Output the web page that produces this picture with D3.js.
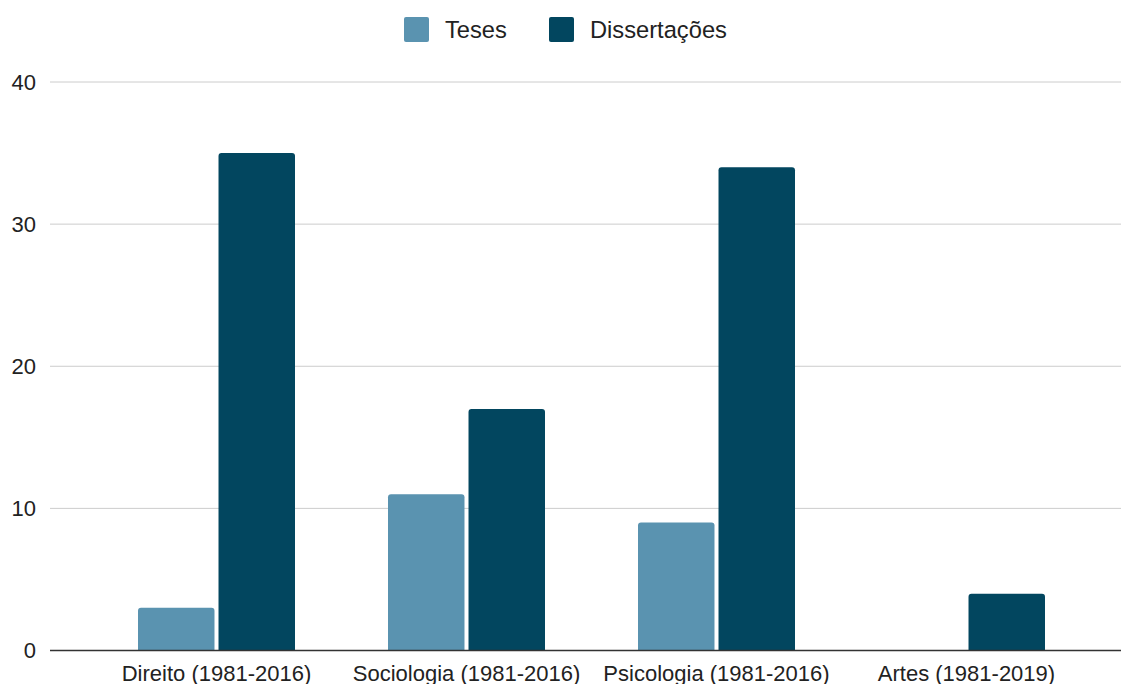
<!DOCTYPE html>
<head>
  <meta charset="utf-8">
  <style>
    body { margin: 0; background: #fff; }
    svg text { font-family: "Liberation Sans", Arial, sans-serif; fill: #222; }
    svg .grid line { stroke: #ccc; stroke-width: 1px; }
    svg .baseline { stroke: #333; stroke-width: 1.5px; }
  </style>
</head>
<body>
<script src="https://d3js.org/d3.v7.min.js"></script>
<script>
  // data
  var categories = ["Direito (1981-2016)", "Sociologia (1981-2016)", "Psicologia (1981-2016)", "Artes (1981-2019)"];
  var series = ["Teses", "Dissertações"];
  var teses = [3, 11, 9, 0];
  var dissertacoes = [35, 17, 34, 4];
  var yTicks = [0, 10, 20, 30, 40];
  var colors = ["#5a93b0", "#02465f"];

  var width = 1121, height = 684;
  var plotLeft = 50, plotRight = 1121, plotTop = 82, plotBottom = 650.5;

  var svg = d3.select("body").append("svg")
      .attr("width", width)
      .attr("height", height);

  var y = d3.scaleLinear().domain([0, 40]).range([plotBottom, plotTop]);

  var x0 = d3.scaleBand()
      .domain(categories)
      .range([91.5, 1091.5])
      .paddingInner(0.372)
      .paddingOuter(0.186);

  var x1 = d3.scaleBand()
      .domain(series)
      .range([0, x0.bandwidth()])
      .paddingInner(0.05);

  var color = d3.scaleOrdinal().domain(series).range(colors);

  // gridlines + y labels
  var grid = svg.append("g").classed("grid", true);
  grid.selectAll("line")
    .data(yTicks.filter(function (d) { return d !== 0; }))
    .enter().append("line")
      .attr("x1", plotLeft).attr("x2", plotRight)
      .attr("y1", function (d) { return y(d); })
      .attr("y2", function (d) { return y(d); });

  svg.append("g").selectAll("text")
    .data(yTicks)
    .enter().append("text")
      .attr("x", 36)
      .attr("y", function (d) { return y(d); })
      .attr("dy", "0.36em")
      .style("text-anchor", "end")
      .style("font-size", "22px")
      .text(function (d) { return d; });

  // bars, rounded top corners only
  function topRounded(x, yTop, w, h, r) {
    if (h <= 0) return "";
    r = Math.min(r, h, w / 2);
    return "M" + x + "," + (yTop + h) +
      "V" + (yTop + r) +
      "Q" + x + "," + yTop + " " + (x + r) + "," + yTop +
      "H" + (x + w - r) +
      "Q" + (x + w) + "," + yTop + " " + (x + w) + "," + (yTop + r) +
      "V" + (yTop + h) + "Z";
  }

  var rows = categories.map(function (c, i) {
    return { cat: c, values: [
      { key: "Teses", value: teses[i] },
      { key: "Dissertações", value: dissertacoes[i] }
    ] };
  });

  var groups = svg.append("g").selectAll("g")
    .data(rows)
    .enter().append("g")
      .attr("transform", function (d) { return "translate(" + x0(d.cat) + ",0)"; });

  groups.selectAll("path")
    .data(function (d) { return d.values; })
    .enter().append("path")
      .attr("d", function (d) {
        return topRounded(x1(d.key), y(d.value), x1.bandwidth(), y(0) - y(d.value), 3);
      })
      .style("fill", function (d) { return color(d.key); });

  // baseline
  svg.append("line")
      .classed("baseline", true)
      .attr("x1", plotLeft).attr("x2", plotRight)
      .attr("y1", y(0)).attr("y2", y(0));

  // x labels (cut by the bottom edge, as in the original)
  svg.append("g").selectAll("text")
    .data(categories)
    .enter().append("text")
      .attr("x", function (d) { return x0(d) + x0.bandwidth() / 2; })
      .attr("y", 681)
      .style("text-anchor", "middle")
      .style("font-size", "22px")
      .text(function (d) { return d; });

  // legend
  var legendX = [404, 549];
  var legend = svg.append("g").selectAll("g")
    .data(series)
    .enter().append("g")
      .attr("transform", function (d, i) { return "translate(" + legendX[i] + ",17)"; });

  legend.append("rect")
      .attr("width", 25).attr("height", 25)
      .attr("rx", 2)
      .style("fill", function (d) { return color(d); });

  legend.append("text")
      .attr("x", 41)
      .attr("y", 20.5)
      .style("font-size", "23.7px")
      .text(function (d) { return d; });
</script>
</body>
</html>
